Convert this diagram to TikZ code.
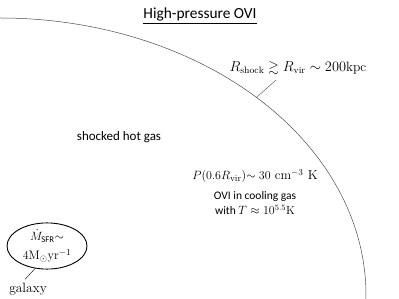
\documentclass[tikz,border=0pt]{standalone}
\usepackage{amsmath,amssymb}
\usepackage{fontspec}
\setsansfont{Carlito}
\usepackage{tikz}
\usetikzlibrary{positioning,shapes.geometric}

\begin{document}
\begin{tikzpicture}[x=1pt,y=-1pt,font=\sffamily]
    \useasboundingbox (0,0) rectangle (399,299);
    \node[font=\fontsize{15.4}{18}\sffamily] (title) at (200,16) {\underline{High-pressure OVI}};
    \draw[gray!60!black,line width=0.5pt] (0,18) arc[start angle=-90,end angle=3,x radius=366,y radius=277];
    \coordinate (front) at ([shift={(0,295)}]-45.5:366 and 277);
    \node[font=\fontsize{13.5}{16}\selectfont] (shock) at (298,68)
      {$R_{\mathrm{shock}}\gtrsim R_{\mathrm{vir}}\sim 200\mathrm{kpc}$};
    \draw[gray!60!black] ([xshift=-22pt,yshift=-2pt]shock.south) -- (front);
    \node[font=\fontsize{13}{15}\sffamily] (hot) at (119,137) {shocked hot gas};
    \node[font=\fontsize{13}{15}\selectfont] (press) at (255,176)
      {$P(0.6R_{\mathrm{vir}}){\sim}\;30\ \mathrm{cm}^{-3}\ \mathrm{K}$};
    \node[font=\fontsize{11.5}{15}\sffamily,align=center,below=2pt of press] (ovi)
      {OVI in cooling gas\\with $T\approx10^{5.5}\mathrm{K}$};
    \node[draw,ellipse,line width=0.9pt,minimum width=80pt,minimum height=45pt,inner sep=0pt,align=center,
      font=\fontsize{12.5}{19}\selectfont] (gal) at (47,246)
      {$\dot{M}_{\mathsf{SFR}}{\sim}$\\$4\mathrm{M}_{\odot}\mathrm{yr}^{-1}$};
    \node[font=\fontsize{13.5}{16}\selectfont] (galtxt) at (28,289) {galaxy};
    \draw (gal.-118) -- ([xshift=-3pt]galtxt.north);
  \end{tikzpicture}
\end{document}
